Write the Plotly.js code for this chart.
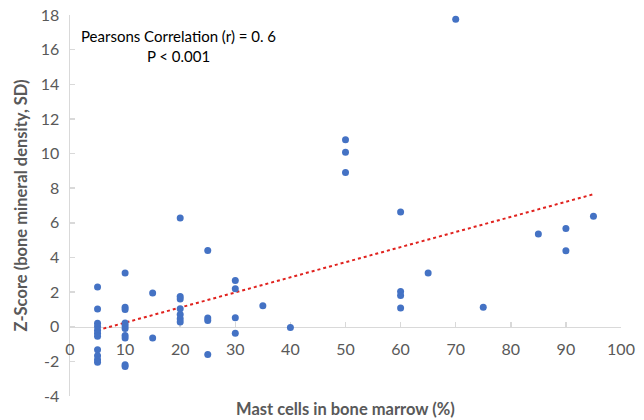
<!DOCTYPE html>
<html>
<head>
<meta charset="utf-8">
<script src="https://cdn.plot.ly/plotly-3.0.1.min.js"></script>
<style>html,body{margin:0;padding:0;background:#fff;}#chart{width:644px;height:420px;}</style>
</head>
<body>
<div id="chart"></div>
<script>
// Mast cells in bone marrow (%) vs Z-score
const mastCells = [
  5,5,5,5,5,5,5,5,5,5,5,
  10,10,10,10,10,10,10,10,10,10,
  15,15,
  20,20,20,20,20,20,20,
  25,25,25,25,
  30,30,30,30,
  35,
  40,
  50,50,50,
  60,60,60,60,
  65,
  70,
  75,
  85,
  90,90,
  95
];
const zScore = [
  2.3,1.03,0.2,0.02,-0.2,-0.38,-0.55,-1.33,-1.67,-1.9,-2.05,
  3.1,1.12,1.0,0.22,0.05,-0.1,-0.5,-0.65,-2.2,-2.3,
  1.95,-0.65,
  6.28,1.75,1.6,1.04,0.7,0.46,0.27,
  4.4,0.5,0.36,-1.61,
  2.67,2.2,0.52,-0.38,
  1.21,
  -0.04,
  10.8,10.07,8.9,
  6.63,2.03,1.8,1.08,
  3.1,
  17.75,
  1.13,
  5.36,
  5.67,4.38,
  6.38
];
// Linear trendline endpoints
const trendX = [5, 95];
const trendY = [-0.2, 7.65];

const xTicks = [0,10,20,30,40,50,60,70,80,90,100];
const yTicks = [-4,-2,0,2,4,6,8,10,12,14,16,18];

const xTitle = 'Mast cells in bone marrow (%)';
const yTitle = 'Z-Score (bone mineral density, SD)';
const noteLines = ['Pearsons Correlation (r) = 0. 6', 'P < 0.001'];

const FONT = 'Lato, "Open Sans", sans-serif';
const yMin = -4, yMax = 18;

const traces = [
  {
    x: trendX, y: trendY, type: 'scatter', mode: 'lines',
    line: {color: '#E0221E', width: 2, dash: 'dot'},
    hoverinfo: 'skip', showlegend: false
  },
  {
    x: mastCells, y: zScore, type: 'scatter', mode: 'markers',
    marker: {color: '#4472C4', size: 7},
    showlegend: false
  }
];

const layout = {
  width: 644, height: 420,
  margin: {l: 70, r: 23, t: 15, b: 24},
  paper_bgcolor: '#fff', plot_bgcolor: '#fff',
  font: {family: FONT, color: '#595959'},
  showlegend: false,
  xaxis: {
    range: [0, 100], tickvals: xTicks, ticktext: xTicks.map(String),
    anchor: 'free', position: (0 - yMin) / (yMax - yMin),
    showgrid: false, zeroline: false, layer: 'below traces',
    showline: true, linecolor: '#D9D9D9', linewidth: 1.5,
    ticks: 'inside', ticklen: 5, tickcolor: '#D9D9D9', tickwidth: 1.5,
    ticklabelstandoff: 8,
    tickfont: {family: FONT, size: 16, color: '#595959'},
    fixedrange: true
  },
  yaxis: {
    range: [yMin, yMax], tickvals: yTicks, ticktext: yTicks.map(String),
    showgrid: false, zeroline: false, layer: 'below traces',
    showline: true, linecolor: '#D9D9D9', linewidth: 1.5,
    ticks: 'inside', ticklen: 5, tickcolor: '#D9D9D9', tickwidth: 1.5,
    ticklabelstandoff: 6,
    tickfont: {family: FONT, size: 16, color: '#595959'},
    fixedrange: true
  },
  annotations: [
    {
      text: '<b>' + xTitle + '</b>', xref: 'paper', yref: 'paper',
      x: 0.5, y: 0, xanchor: 'center', yanchor: 'middle', yshift: -13,
      showarrow: false, font: {family: FONT, size: 16.5, color: '#595959'}
    },
    {
      text: '<b>' + yTitle + '</b>', xref: 'paper', yref: 'paper',
      x: 0, y: 0.5, xanchor: 'center', yanchor: 'middle', xshift: -50,
      textangle: -90, showarrow: false,
      font: {family: FONT, size: 16.5, color: '#595959'}
    },
    {
      text: noteLines.join('<br>'), xref: 'x', yref: 'y',
      x: 19.6, y: 16.2, xanchor: 'center', yanchor: 'middle', align: 'center',
      showarrow: false, font: {family: FONT, size: 15, color: '#000'}
    }
  ]
};

Plotly.newPlot('chart', traces, layout, {displayModeBar: false, staticPlot: true});
</script>
</body>
</html>
